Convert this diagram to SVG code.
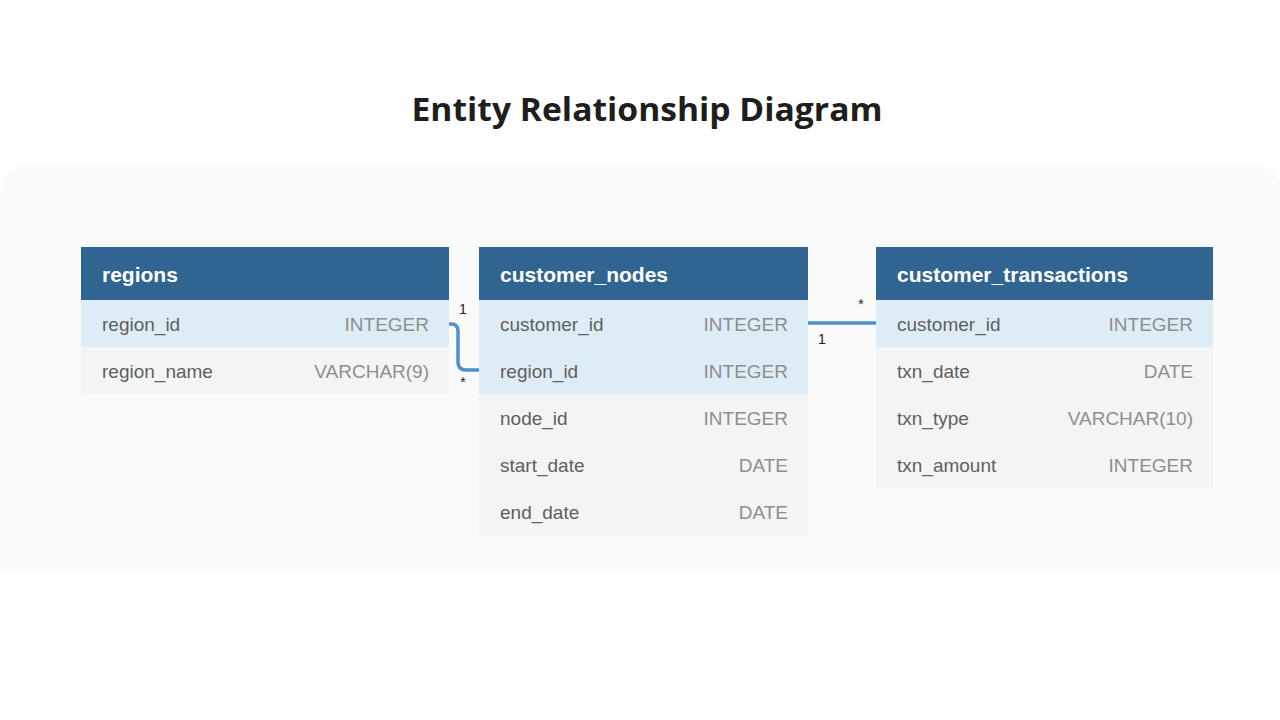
<svg xmlns="http://www.w3.org/2000/svg" width="1280" height="720" viewBox="0 0 1280 720">
<style>
.title{font-family:"Open Sans","Noto Sans","Liberation Sans",sans-serif;font-weight:700;font-size:33px;fill:#1e1e1e}
.hdr{fill:#316591}
.hl{fill:#deedf5}
.rw{fill:#f4f4f4}
.ht{font-family:"Liberation Sans",Arial,sans-serif;font-weight:700;font-size:21px;fill:#ffffff}
.fn{font-family:"Liberation Sans",Arial,sans-serif;font-size:19px;fill:#5f5f5f}
.ft{font-family:"Liberation Sans",Arial,sans-serif;font-size:19px;fill:#8e8e8e;text-anchor:end}
.card{font-family:"Liberation Sans",Arial,sans-serif;font-size:14px;fill:#222;text-anchor:middle}
.conn{fill:none;stroke:#4f8fcb;stroke-width:3.5}
</style>
<rect width="1280" height="720" fill="#ffffff"/>
<path d="M0,197 Q0,165 32,165 L1250,165 Q1282,165 1282,197 L1282,572 L0,572 Z" fill="#fafafa"/>
<text class="title" x="647" y="121" text-anchor="middle" textLength="471" lengthAdjust="spacingAndGlyphs">Entity Relationship Diagram</text>

<g id="regions">
<rect class="hdr" x="81" y="247" width="368" height="53"/>
<rect class="hl" x="81" y="300" width="368" height="47"/>
<rect class="rw" x="81" y="347" width="368" height="47"/>
<text class="ht" x="102" y="282">regions</text>
<text class="fn" x="102" y="331">region_id</text>
<text class="ft" x="429" y="331">INTEGER</text>
<text class="fn" x="102" y="378">region_name</text>
<text class="ft" x="429" y="378">VARCHAR(9)</text>
</g>

<g id="customer_nodes">
<rect class="hdr" x="479" y="247" width="329" height="53"/>
<rect class="hl" x="479" y="300" width="329" height="94"/>
<rect class="rw" x="479" y="394" width="329" height="142"/>
<text class="ht" x="500" y="282">customer_nodes</text>
<text class="fn" x="500" y="331">customer_id</text>
<text class="ft" x="788" y="331">INTEGER</text>
<text class="fn" x="500" y="378">region_id</text>
<text class="ft" x="788" y="378">INTEGER</text>
<text class="fn" x="500" y="425">node_id</text>
<text class="ft" x="788" y="425">INTEGER</text>
<text class="fn" x="500" y="472">start_date</text>
<text class="ft" x="788" y="472">DATE</text>
<text class="fn" x="500" y="519">end_date</text>
<text class="ft" x="788" y="519">DATE</text>
</g>

<g id="customer_transactions">
<rect class="hdr" x="876" y="247" width="337" height="53"/>
<rect class="hl" x="876" y="300" width="337" height="47"/>
<rect class="rw" x="876" y="347" width="337" height="141"/>
<text class="ht" x="897" y="282">customer_transactions</text>
<text class="fn" x="897" y="331">customer_id</text>
<text class="ft" x="1193" y="331">INTEGER</text>
<text class="fn" x="897" y="378">txn_date</text>
<text class="ft" x="1193" y="378">DATE</text>
<text class="fn" x="897" y="425">txn_type</text>
<text class="ft" x="1193" y="425">VARCHAR(10)</text>
<text class="fn" x="897" y="472">txn_amount</text>
<text class="ft" x="1193" y="472">INTEGER</text>
</g>

<g id="connectors">
<path class="conn" d="M449,324 L451,324 Q458,324 458,331 L458,362 Q458,370 466,370 L479,370"/>
<text class="card" x="463" y="314">1</text>
<text class="card" x="463" y="387">*</text>
<path class="conn" d="M808,323 L876,323"/>
<text class="card" x="861" y="309">*</text>
<text class="card" x="822" y="344">1</text>
</g>
</svg>
